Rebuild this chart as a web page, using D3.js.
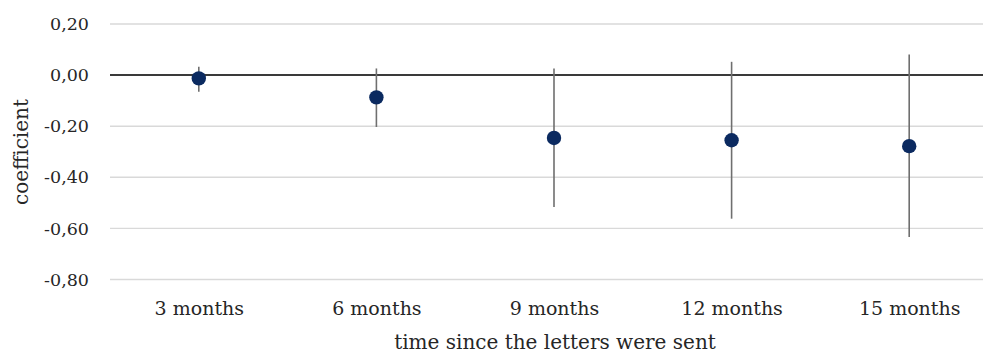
<!DOCTYPE html>
<html>
<head>
<meta charset="utf-8">
<script src="https://cdn.jsdelivr.net/npm/d3@7"></script>
<style>
  html, body { margin: 0; padding: 0; background: #fff; }
  svg { display: block; }
  text { font-family: "DejaVu Serif", "Liberation Serif", serif; fill: #262626; }
</style>
</head>
<body>
<script>
// Estimated coefficients with confidence intervals, by time since the letters were sent
const categories = ["3 months", "6 months", "9 months", "12 months", "15 months"];
const coefficient = [-0.013, -0.087, -0.246, -0.255, -0.278];
const ciLower = [-0.065, -0.203, -0.516, -0.562, -0.634];
const ciUpper = [0.033, 0.026, 0.026, 0.052, 0.081];
const yTicks = [0.2, 0, -0.2, -0.4, -0.6, -0.8];

const width = 992, height = 356;
const plotLeft = 110, plotRight = 983;

const svg = d3.select("body").append("svg")
  .attr("width", width)
  .attr("height", height);

const x = d3.scalePoint()
  .domain(categories)
  .range([110, 998])
  .padding(0.5);

const y = d3.scaleLinear()
  .domain([-0.8, 0.2])
  .range([279.5, 24]);

const fmt = v => d3.format(".2f")(v).replace(".", ",").replace("−", "-");

// horizontal gridlines
svg.append("g")
  .selectAll("line")
  .data(yTicks.filter(d => d !== 0))
  .join("line")
  .attr("x1", plotLeft).attr("x2", plotRight)
  .attr("y1", d => y(d)).attr("y2", d => y(d))
  .attr("stroke", "#d9d9d9")
  .attr("stroke-width", 1.4);

// y axis tick labels
const yAxis = d3.axisLeft(y).tickValues(yTicks).tickFormat(fmt).tickSize(0).tickPadding(0);
const yg = svg.append("g").attr("transform", "translate(89,0)").call(yAxis);
yg.select(".domain").remove();
yg.selectAll("text")
  .attr("font-size", 17.5)
  .attr("font-family", "DejaVu Serif")
  .attr("fill", "#262626");

// zero line
svg.append("line")
  .attr("x1", plotLeft).attr("x2", plotRight)
  .attr("y1", y(0)).attr("y2", y(0))
  .attr("stroke", "#3a3a3a")
  .attr("stroke-width", 2);

// x axis category labels
const xAxis = d3.axisBottom(x).tickSize(0).tickPadding(0);
const xg = svg.append("g").attr("transform", "translate(0,301)").call(xAxis);
xg.select(".domain").remove();
xg.selectAll("text")
  .attr("font-size", 19)
  .attr("font-family", "DejaVu Serif")
  .attr("fill", "#262626");

// confidence interval whiskers
svg.append("g")
  .selectAll("line")
  .data(categories)
  .join("line")
  .attr("x1", d => x(d)).attr("x2", d => x(d))
  .attr("y1", (d, i) => y(ciUpper[i]))
  .attr("y2", (d, i) => y(ciLower[i]))
  .attr("stroke", "#6f6f6f")
  .attr("stroke-width", 1.6);

// point estimates
svg.append("g")
  .selectAll("circle")
  .data(categories)
  .join("circle")
  .attr("cx", d => x(d))
  .attr("cy", (d, i) => y(coefficient[i]))
  .attr("r", 7.2)
  .attr("fill", "#0b2a60");

// axis titles
svg.append("text")
  .attr("x", 555).attr("y", 349)
  .attr("text-anchor", "middle")
  .attr("font-size", 20)
  .text("time since the letters were sent");

svg.append("text")
  .attr("transform", "translate(28,152) rotate(-90)")
  .attr("text-anchor", "middle")
  .attr("font-size", 20)
  .text("coefficient");
</script>
</body>
</html>
